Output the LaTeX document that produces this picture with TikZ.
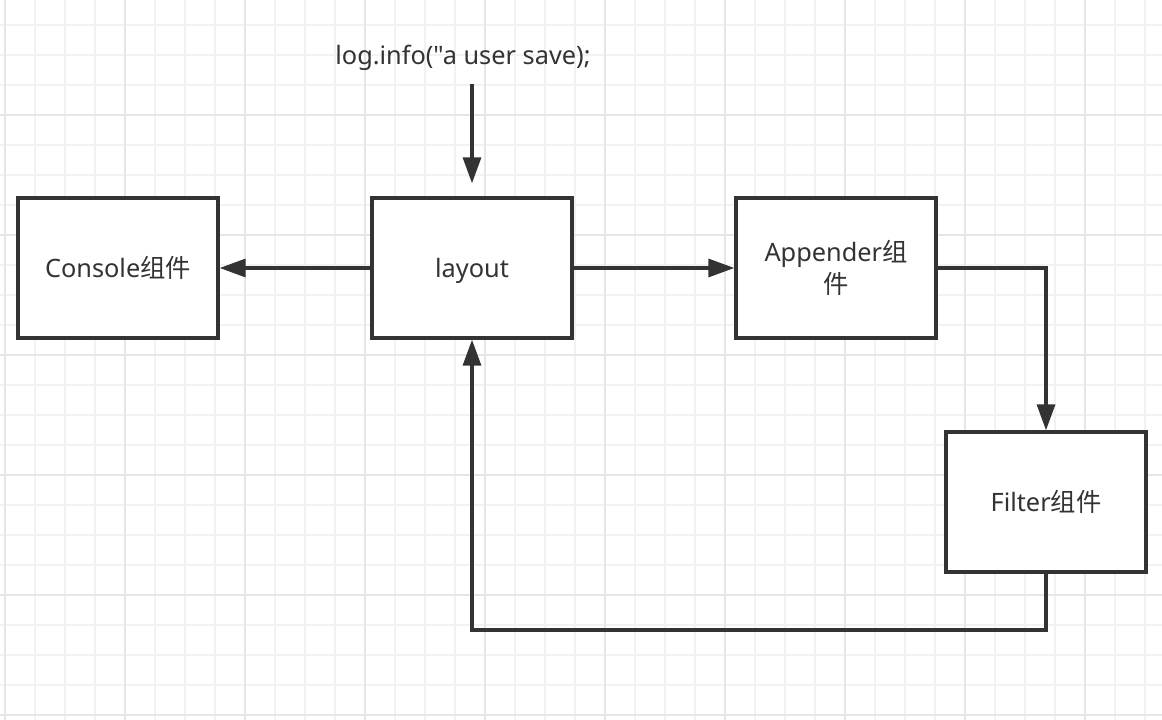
\documentclass[tikz,border=0pt]{standalone}
\usepackage{fontspec}
\setmainfont{Noto Sans}[Ligatures=TeXOff]
\newfontfamily\cjk{Noto Sans CJK SC}
\usetikzlibrary{arrows.meta}
\definecolor{ink}{HTML}{333333}
\definecolor{gridminor}{HTML}{F2F2F2}
\definecolor{gridmajor}{HTML}{E6E6E6}
\tikzset{
  box/.style={draw=ink, line width=2.5pt, fill=white, minimum width=150pt, minimum height=105pt, inner sep=0pt, text=ink, font=\fontsize{19}{23.5}\selectfont, align=center},
  oneline/.style={text height=17pt, text depth=3pt},
  conn/.style={draw=ink, line width=2.5pt, -{Triangle[length=19.5pt,width=13.5pt]}},
  label/.style={text=ink, font=\fontsize{19}{22}\selectfont, inner sep=0pt},
}
\begin{document}
\begin{tikzpicture}[x=0.75pt,y=-0.75pt]
\useasboundingbox (0,0) rectangle (1162,720);
\fill[white] (0,0) rectangle (1162,720);
% grid
\foreach \i in {0,...,38} {
  \draw[gridminor, line width=1.2pt] ({5+30*\i},0) -- ({5+30*\i},720);
}
\foreach \j in {0,...,23} {
  \draw[gridminor, line width=1.2pt] (0,{25+30*\j}) -- (1162,{25+30*\j});
}
\foreach \i in {0,...,9} {
  \draw[gridmajor, line width=1.4pt] ({5+120*\i},0) -- ({5+120*\i},720);
}
\foreach \j in {1,...,6} {
  \draw[gridmajor, line width=1.4pt] (0,{-5+120*\j}) -- (1162,{-5+120*\j});
}
% nodes
\node[box, oneline] (console) at (118,268) {Console{\cjk 组件}};
\node[box, oneline] (layout) at (472,268) {layout};
\node[box] (appender) at (836,268) {Appender{\cjk 组}\\{\cjk 件}};
\node[box, oneline] (filter) at (1046,502) {Filter{\cjk 组件}};
\node[label] (log) at (463,58) {log.info("a user save);};
\coordinate (c1) at (appender.east -| filter.north);
\coordinate (c2) at (1046,630);
\coordinate (c3) at (layout.south |- c2);
% connectors
\draw[conn, shorten <=10pt, shorten >=9.75pt] (log.south -| layout.north) -- (layout.north);
\draw[conn] (layout.west) -- (console.east);
\draw[conn] (layout.east) -- (appender.west);
\draw[conn] (appender.east) -- (c1) -- (filter.north);
\draw[conn] (filter.south) -- (c2) -- (c3) -- (layout.south);
\end{tikzpicture}
\end{document}
